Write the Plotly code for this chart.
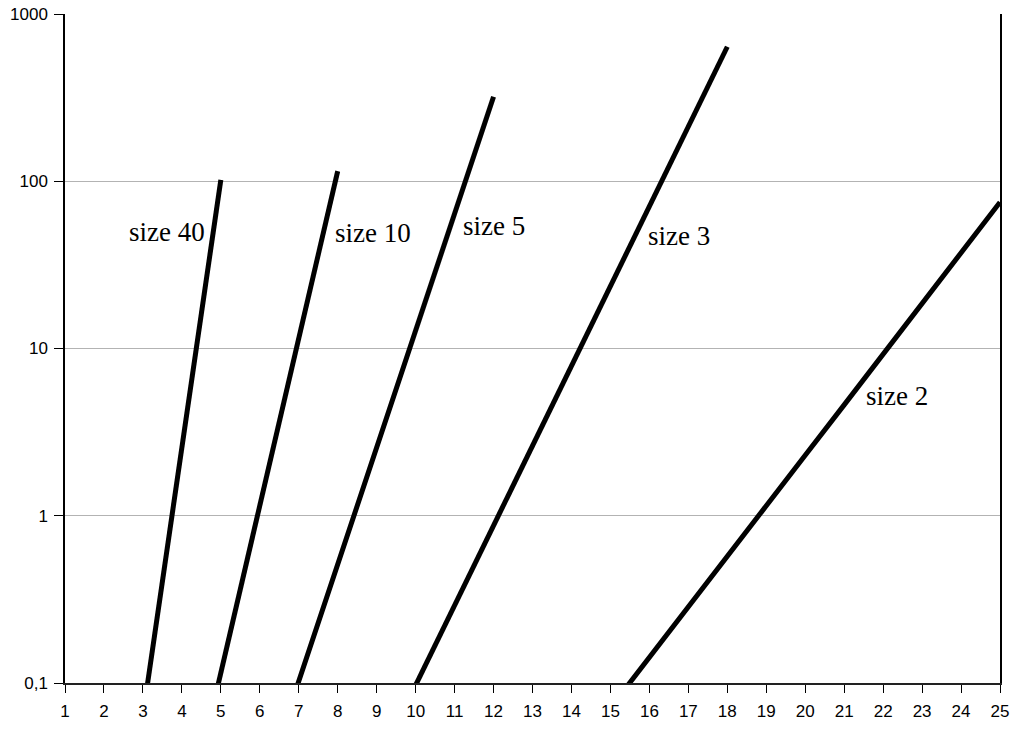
import plotly.graph_objects as go

# Growth curves per block size (log scale), one line per size
x_size40 = [3, 4, 5]
y_size40 = [0.064, 2.56, 102]

x_size10 = [4, 5, 6, 7, 8]
y_size10 = [0.0115, 0.115, 1.15, 11.5, 115]

x_size5 = [6, 7, 8, 9, 10, 11, 12]
y_size5 = [0.02048, 0.1024, 0.512, 2.56, 12.8, 64, 320]

x_size3 = [10, 11, 12, 13, 14, 15, 16, 17, 18]
y_size3 = [0.097, 0.291, 0.873, 2.62, 7.86, 23.6, 70.7, 212, 637]

x_size2 = [15, 16, 17, 18, 19, 20, 21, 22, 23, 24, 25]
y_size2 = [0.071, 0.143, 0.286, 0.572, 1.15, 2.3, 4.6, 9.2, 18.5, 37, 75]

series = [
    ("size 40", x_size40, y_size40),
    ("size 10", x_size10, y_size10),
    ("size 5", x_size5, y_size5),
    ("size 3", x_size3, y_size3),
    ("size 2", x_size2, y_size2),
]

# label anchor points (x, log10 y)
label_pos = {
    "size 40": (3.615, 1.697),
    "size 10": (8.897, 1.691),
    "size 5": (12.0, 1.733),
    "size 3": (16.77, 1.670),
    "size 2": (22.36, 0.719),
}

x_ticks = list(range(1, 26))
y_ticks = [0.1, 1, 10, 100, 1000]
y_ticktext = ["0,1", "1", "10", "100", "1000"]

fig = go.Figure()
for name, xs, ys in series:
    fig.add_trace(go.Scatter(
        x=xs, y=ys, mode="lines", name=name,
        line=dict(color="black", width=5),
        showlegend=False, hoverinfo="skip",
    ))
    lx, ly = label_pos[name]
    fig.add_annotation(
        x=lx, y=ly, xref="x", yref="y", text=name, showarrow=False,
        font=dict(family="Liberation Serif", size=27, color="black"),
        xanchor="center", yanchor="middle",
    )

fig.update_layout(
    width=1016, height=729,
    margin=dict(l=65, r=16, t=14, b=46),
    plot_bgcolor="white", paper_bgcolor="white",
    font=dict(family="Liberation Sans", size=17, color="black"),
)
fig.update_xaxes(
    range=[1, 25], tickvals=x_ticks, ticktext=[str(v) for v in x_ticks],
    showgrid=False, zeroline=False, automargin=False,
    showline=True, linecolor="#222222", linewidth=1.5,
    ticks="outside", ticklen=8, tickcolor="black", tickwidth=1,
    ticklabelstandoff=4,
    tickfont=dict(family="Liberation Sans", size=17, color="black"),
)
fig.update_yaxes(
    type="log", range=[-1, 3], tickvals=y_ticks, ticktext=y_ticktext,
    showgrid=True, gridcolor="#b3b3b3", gridwidth=1,
    zeroline=False, automargin=False,
    showline=True, linecolor="black", linewidth=1.5, mirror=True,
    ticks="outside", ticklen=9, tickcolor="black", tickwidth=1,
    ticklabelstandoff=3,
    tickfont=dict(family="Liberation Sans", size=17, color="black"),
)

fig.write_html("out.html")
